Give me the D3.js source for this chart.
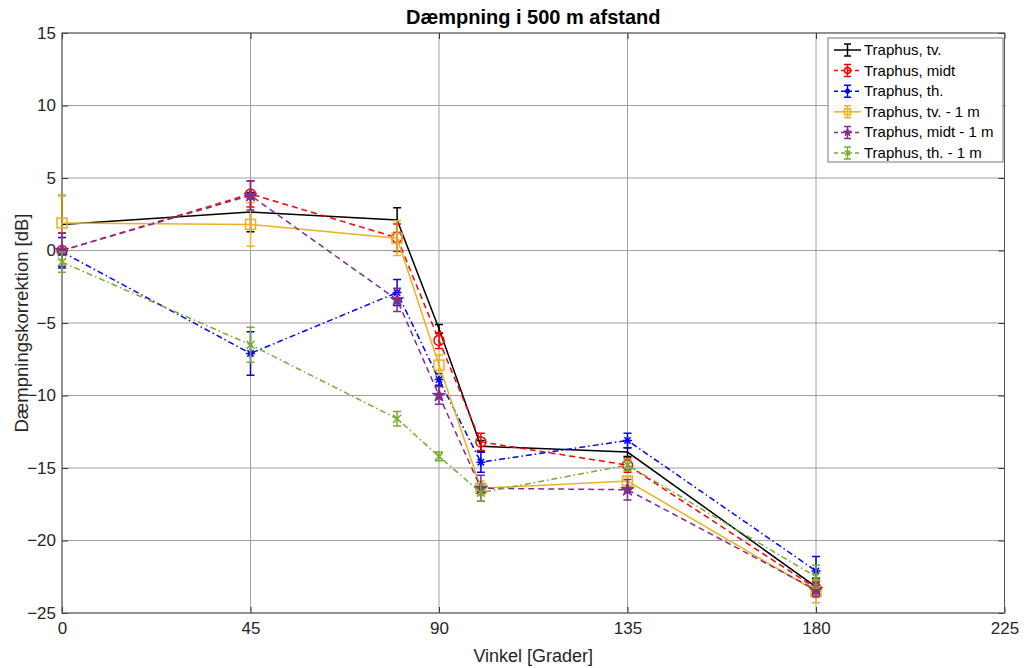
<!DOCTYPE html>
<html><head><meta charset="utf-8">
<script src="https://cdn.jsdelivr.net/npm/d3@7"></script>
<style>body{margin:0;background:#fff;} text{font-family:"Liberation Sans",Arial,Helvetica,sans-serif;}</style>
</head><body>
<svg id="c" width="1025" height="668"></svg>
<script>
const angles = [0, 45, 80, 90, 100, 135, 180];
const xTicks = [0, 45, 90, 135, 180, 225];
const yTicks = [-25, -20, -15, -10, -5, 0, 5, 10, 15];

const seriesNames = ["Traphus, tv.", "Traphus, midt", "Traphus, th.", "Traphus, tv. - 1 m", "Traphus, midt - 1 m", "Traphus, th. - 1 m"];
const tvValues      = [1.8, 2.65, 2.1, -5.4, -13.5, -13.9, -23.2];
const tvErr         = [2.0, 1.35, 0.85, 0.3, 0.4, 0.3, 0.6];
const midtValues    = [0.0, 3.9, 0.88, -6.2, -13.2, -14.8, -23.3];
const midtErr       = [1.2, 0.9, 0.95, 0.55, 0.6, 0.5, 0.5];
const thValues      = [-0.1, -7.1, -2.9, -8.9, -14.6, -13.1, -22.1];
const thErr         = [1.0, 1.5, 0.9, 0.4, 0.7, 0.5, 1.0];
const tv1Values     = [1.9, 1.8, 0.85, -7.9, -16.4, -15.9, -23.5];
const tv1Err        = [1.9, 1.5, 1.2, 0.7, 0.5, 0.3, 0.8];
const midt1Values   = [0.0, 3.8, -3.4, -10.0, -16.4, -16.5, -23.4];
const midt1Err      = [1.2, 1.0, 0.8, 0.6, 0.9, 0.7, 0.5];
const th1Values     = [-0.8, -6.5, -11.6, -14.2, -16.7, -14.8, -22.5];
const th1Err        = [0.7, 1.2, 0.5, 0.3, 0.6, 0.4, 0.8];

const series = [
  {name: seriesNames[0], v: tvValues,    e: tvErr,    color: "#000000", dash: null,        marker: "none"},
  {name: seriesNames[1], v: midtValues,  e: midtErr,  color: "#ff0000", dash: "6,4",       marker: "circle"},
  {name: seriesNames[2], v: thValues,    e: thErr,    color: "#0000ff", dash: "6,3,1.5,3", marker: "asterisk"},
  {name: seriesNames[3], v: tv1Values,   e: tv1Err,   color: "#EDB120", dash: null,        marker: "square"},
  {name: seriesNames[4], v: midt1Values, e: midt1Err, color: "#7E2F8E", dash: "6,4",       marker: "star"},
  {name: seriesNames[5], v: th1Values,   e: th1Err,   color: "#77AC30", dash: "6,3,1.5,3", marker: "x"}
];

const svg = d3.select("#c");
const L = 62, R = 1004.5, T = 33, B = 613;
const x = d3.scaleLinear().domain([0, 225]).range([L, R]);
const y = d3.scaleLinear().domain([-25, 15]).range([B, T]);

// grid
const g = svg.append("g");
g.selectAll(".gx").data(xTicks).enter().append("line")
  .attr("x1", d => x(d)).attr("x2", d => x(d)).attr("y1", T).attr("y2", B)
  .attr("stroke", "#a0a0a0").attr("stroke-width", 1);
g.selectAll(".gy").data(yTicks).enter().append("line")
  .attr("y1", d => y(d)).attr("y2", d => y(d)).attr("x1", L).attr("x2", R)
  .attr("stroke", "#a0a0a0").attr("stroke-width", 1);

// axes
const xAxis = d3.axisBottom(x).tickValues(xTicks).tickSize(-6).tickPadding(9).tickFormat(d3.format("d"));
const yAxis = d3.axisLeft(y).tickValues(yTicks).tickSize(-6).tickPadding(6).tickFormat(d3.format("d"));
const xa = svg.append("g").attr("transform", `translate(0,${B})`).call(xAxis);
const ya = svg.append("g").attr("transform", `translate(${L},0)`).call(yAxis);
[xa, ya].forEach(a => {
  a.select(".domain").remove();
  a.selectAll("line").attr("stroke", "#333");
  a.selectAll("text").attr("fill", "#262626").style("font-size", "17px");
});
// top and right ticks
svg.append("g").attr("transform", `translate(0,${T})`).call(d3.axisTop(x).tickValues(xTicks).tickSize(-6).tickFormat(""))
  .call(a => { a.select(".domain").remove(); a.selectAll("line").attr("stroke", "#333"); });
svg.append("g").attr("transform", `translate(${R},0)`).call(d3.axisRight(y).tickValues(yTicks).tickSize(-6).tickFormat(""))
  .call(a => { a.select(".domain").remove(); a.selectAll("line").attr("stroke", "#333"); });

svg.append("rect").attr("x", L).attr("y", T).attr("width", R - L).attr("height", B - T)
  .attr("fill", "none").attr("stroke", "#555").attr("stroke-width", 1);

// marker drawing
function drawMarker(sel, type, cx, cy, color, s) {
  s = s || 1;
  if (type === "circle") {
    sel.append("circle").attr("cx", cx).attr("cy", cy).attr("r", 5 * s).attr("fill", "none").attr("stroke", color).attr("stroke-width", 1.5);
  } else if (type === "square") {
    sel.append("rect").attr("x", cx - 5 * s).attr("y", cy - 5 * s).attr("width", 10 * s).attr("height", 10 * s).attr("fill", "none").attr("stroke", color).attr("stroke-width", 1.5);
  } else if (type === "star") {
    sel.append("path").attr("d", d3.symbol().type(d3.symbolStar).size(55 * s * s)()).attr("transform", `translate(${cx},${cy})`)
      .attr("fill", color).attr("stroke", color).attr("stroke-width", 1);
  } else if (type === "asterisk") {
    const r = 4.5 * s;
    const p = `M${cx - r},${cy}L${cx + r},${cy}M${cx},${cy - r}L${cx},${cy + r}M${cx - r * 0.7},${cy - r * 0.7}L${cx + r * 0.7},${cy + r * 0.7}M${cx - r * 0.7},${cy + r * 0.7}L${cx + r * 0.7},${cy - r * 0.7}`;
    sel.append("path").attr("d", p).attr("stroke", color).attr("stroke-width", 1.5).attr("fill", "none");
  } else if (type === "x") {
    const r = 4 * s;
    sel.append("path").attr("d", `M${cx - r},${cy - r}L${cx + r},${cy + r}M${cx - r},${cy + r}L${cx + r},${cy - r}`)
      .attr("stroke", color).attr("stroke-width", 1.5).attr("fill", "none");
  }
}

const line = d3.line().x(d => x(d[0])).y(d => y(d[1]));
const plot = svg.append("g");
series.forEach(s => {
  const gg = plot.append("g");
  const pts = angles.map((a, i) => [a, s.v[i]]);
  gg.append("path").attr("d", line(pts)).attr("fill", "none").attr("stroke", s.color).attr("stroke-width", 1.5)
    .attr("stroke-dasharray", s.dash);
  angles.forEach((a, i) => {
    const cx = x(a), y1 = y(s.v[i] + s.e[i]), y2 = y(s.v[i] - s.e[i]);
    gg.append("path").attr("d", `M${cx},${y1}L${cx},${y2}M${cx - 4},${y1}L${cx + 4},${y1}M${cx - 4},${y2}L${cx + 4},${y2}`)
      .attr("stroke", s.color).attr("stroke-width", 1.5).attr("fill", "none");
    drawMarker(gg, s.marker, cx, y(s.v[i]), s.color, 1);
  });
});

// title & labels
svg.append("text").attr("x", (L + R) / 2).attr("y", 24).attr("text-anchor", "middle")
  .style("font-size", "20px").style("font-weight", "bold").attr("fill", "#000").text("Dæmpning i 500 m afstand");
svg.append("text").attr("x", (L + R) / 2).attr("y", 662).attr("text-anchor", "middle")
  .style("font-size", "18px").attr("fill", "#262626").text("Vinkel [Grader]");
svg.append("text").attr("transform", `translate(28,${(T + B) / 2}) rotate(-90)`).attr("text-anchor", "middle")
  .style("font-size", "18.5px").attr("fill", "#262626").text("Dæmpningskorrektion [dB]");

// legend
const lg = svg.append("g");
lg.append("rect").attr("x", 828).attr("y", 38).attr("width", 175).attr("height", 124)
  .attr("fill", "#fff").attr("stroke", "#777").attr("stroke-width", 1);
series.forEach((s, i) => {
  const cy = 50 + i * 20.6;
  lg.append("line").attr("x1", 834).attr("x2", 861).attr("y1", cy).attr("y2", cy)
    .attr("stroke", s.color).attr("stroke-width", 1.5).attr("stroke-dasharray", s.dash ? "4,3" : null);
  lg.append("path").attr("d", `M847.5,${cy - 6}L847.5,${cy + 6}M844,${cy - 6}L851,${cy - 6}M844,${cy + 6}L851,${cy + 6}`)
    .attr("stroke", s.color).attr("stroke-width", 1.5).attr("fill", "none");
  drawMarker(lg, s.marker, 847.5, cy, s.color, 0.6);
  lg.append("text").attr("x", 864).attr("y", cy + 5).style("font-size", "15px").attr("fill", "#000").text(s.name);
});
</script>
</body></html>
